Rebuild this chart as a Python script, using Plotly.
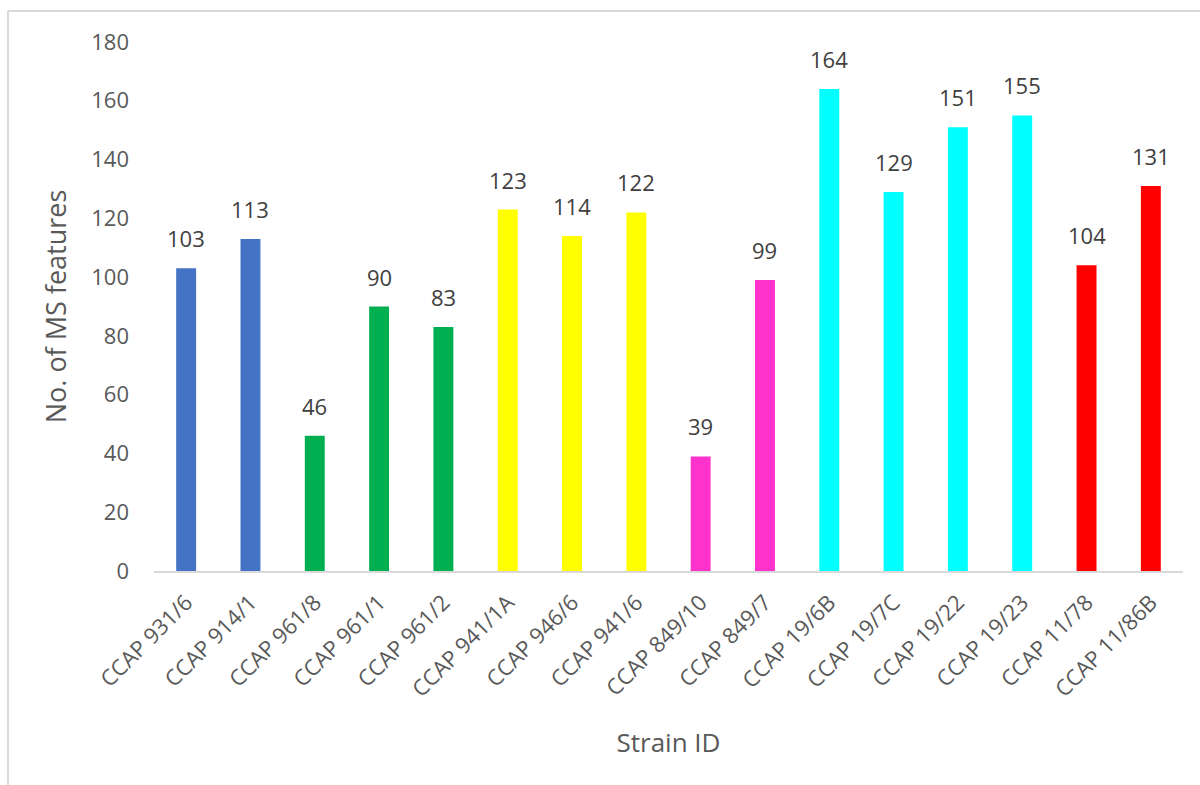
import plotly.graph_objects as go

strains = [
    "CCAP 931/6", "CCAP 914/1", "CCAP 961/8", "CCAP 961/1", "CCAP 961/2",
    "CCAP 941/1A", "CCAP 946/6", "CCAP 941/6", "CCAP 849/10", "CCAP 849/7",
    "CCAP 19/6B", "CCAP 19/7C", "CCAP 19/22", "CCAP 19/23", "CCAP 11/78",
    "CCAP 11/86B",
]
ms_features = [103, 113, 46, 90, 83, 123, 114, 122, 39, 99, 164, 129, 151, 155, 104, 131]
bar_colors = [
    "#4472C4", "#4472C4",
    "#00B050", "#00B050", "#00B050",
    "#FFFF00", "#FFFF00", "#FFFF00",
    "#FF33CC", "#FF33CC",
    "#00FFFF", "#00FFFF", "#00FFFF", "#00FFFF",
    "#FF0000", "#FF0000",
]
y_ticks = [0, 20, 40, 60, 80, 100, 120, 140, 160, 180]

FONT = "Open Sans"
GREY = "#595959"

fig = go.Figure(
    go.Bar(
        x=strains,
        y=ms_features,
        marker=dict(color=bar_colors, line=dict(width=0)),
        showlegend=False,
        hoverinfo="x+y",
    )
)

# value labels above each bar
for s, v in zip(strains, ms_features):
    fig.add_annotation(
        x=s, y=v, text=str(v), showarrow=False,
        yanchor="bottom", yshift=13,
        font=dict(family=FONT, size=22, color="#404040"),
    )

# chart-area frame (left and top edges)
fig.add_shape(type="line", xref="paper", yref="paper",
              x0=-0.1419, x1=-0.1419, y0=1.0586, y1=-0.41,
              line=dict(color="#D9D9D9", width=2))
fig.add_shape(type="line", xref="paper", yref="paper",
              x0=-0.1419, x1=1.02, y0=1.0586, y1=1.0586,
              line=dict(color="#D9D9D9", width=2))

fig.update_layout(
    width=1200, height=785,
    margin=dict(l=154, r=17, t=42, b=214, autoexpand=False),
    plot_bgcolor="white", paper_bgcolor="white",
    bargap=0.69,
    font=dict(family=FONT, color=GREY),
    xaxis=dict(
        tickangle=-45,
        tickfont=dict(family=FONT, size=22, color=GREY),
        showline=True, linecolor="#D9D9D9", linewidth=2,
        showgrid=False, ticks="",
        ticklabelstandoff=8,
        automargin=False,
        title=dict(text="Strain ID", font=dict(family=FONT, size=26, color=GREY), standoff=32),
    ),
    yaxis=dict(
        range=[0, 180],
        tickvals=y_ticks,
        tickfont=dict(family=FONT, size=22, color=GREY),
        showgrid=False, zeroline=False, showline=False, ticks="",
        ticklabelstandoff=24,
        automargin=False,
        title=dict(text="No. of MS features", font=dict(family=FONT, size=27, color=GREY), standoff=16),
    ),
)

fig.write_html("out.html")
